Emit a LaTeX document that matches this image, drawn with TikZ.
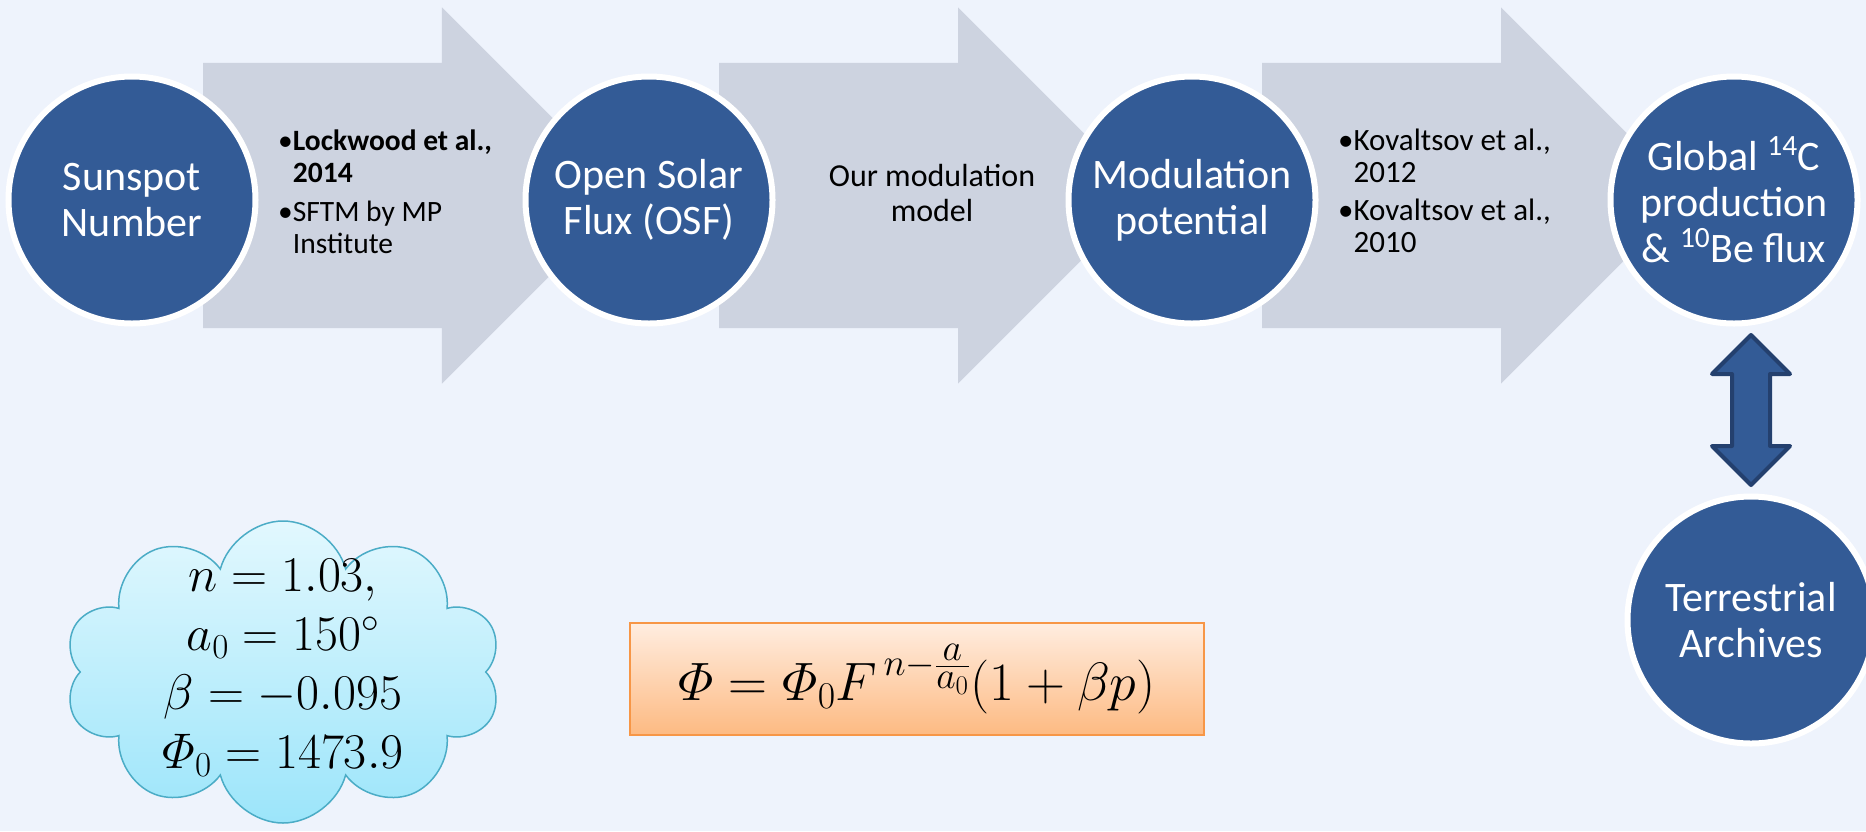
\RequirePackage{fix-cm}
\documentclass[tikz,border=0pt]{standalone}
\usepackage{amsmath}
\usepackage[no-math]{fontspec}
\setmainfont{Carlito}
\usetikzlibrary{positioning, calc, shapes.arrows, shapes.symbols, backgrounds}
\definecolor{slidebg}{HTML}{EEF3FC}
\definecolor{discblue}{HTML}{335B96}
\definecolor{discdark}{HTML}{24406E}
\definecolor{flowgray}{HTML}{CDD3E0}
\definecolor{cloudtop}{HTML}{E2F8FE}
\definecolor{cloudbot}{HTML}{9CE5FA}
\definecolor{cloudbd}{HTML}{4BACC6}
\definecolor{eqtop}{HTML}{FFEDE0}
\definecolor{eqbot}{HTML}{FDBA82}
\definecolor{eqbd}{HTML}{F79646}
\tikzset{
  disc/.style={circle, draw=white, fill=discblue, line width=6pt, minimum size=247pt,
    inner sep=0pt, align=center, text=white, font=\fontsize{42}{46}\selectfont},
  flowarr/.style={single arrow, fill=flowgray, inner xsep=0pt, inner ysep=132.5pt,
    single arrow head extend=55.5pt, minimum height=427pt, anchor=tail},
  reflist/.style={anchor=west, inner sep=0pt, font=\fontsize{31}{32}\selectfont},
  bothway/.style={double arrow, fill=discblue, draw=discdark, line width=4pt, line join=round,
    inner xsep=0pt, inner ysep=17pt, double arrow head extend=20pt, minimum height=150pt}
}

\begin{document}
\begin{tikzpicture}[x=1pt, y=-1pt]
\useasboundingbox (0,0) rectangle (1866,831);
\node[disc] (sun) at (132,200) {Sunspot\\Number};
\node[disc] (osf) at (649,200) {Open Solar\\Flux (OSF)};
\node[disc] (mod) at (1192,200) {Modulation\\potential};
\node[disc] (glob) at (1734,200) {Global \textsuperscript{14}C\\production\\\& \textsuperscript{10}Be flux};
\node[disc] (terra) at (1751,620) {Terrestrial\\Archives};
\begin{pgfonlayer}{background}
\fill[slidebg] (0,0) rectangle (1866,831);
\node[flowarr] (a1) at ($(sun.center)+(71,-4.5)$) {};
\node[flowarr] (a2) at ($(osf.center)+(70,-4.5)$) {};
\node[flowarr] (a3) at ($(mod.center)+(70,-4.5)$) {};
\end{pgfonlayer}
\node[reflist, font=\fontsize{29.5}{32}\selectfont] (lit1) at ($(a1.tail)+(75,0)$) {\begin{tabular}{@{}l@{}l@{}}
  \textbullet&\textbf{Lockwood et al.,}\\&\textbf{2014}\\[7pt]
  \textbullet&SFTM by MP\\&Institute\end{tabular}};
\node[font=\fontsize{32}{35}\selectfont, align=center] (ourmod) at ($(a2.tail)+(213,-3)$) {Our modulation\\model};
\node[reflist] (lit3) at ($(a3.tail)+(76,0)$) {\begin{tabular}{@{}l@{}l@{}}
  \textbullet&Kovaltsov et al.,\\&2012\\[6pt]
  \textbullet&Kovaltsov et al.,\\&2010\end{tabular}};
\node[bothway, rotate=90] (link) at ($(glob.south -| terra.north)!0.5!(terra.north)$) {};
% parameters and the model
\node[cloud, cloud puffs=10, aspect=1.45, top color=cloudtop, bottom color=cloudbot,
  draw=cloudbd, line width=1.5pt, minimum width=437pt, minimum height=302pt, inner sep=0pt] (parcloud) at (283,672) {};
\node[align=center, font=\fontsize{50}{59}\selectfont] (pars) at (283,668)
  {$n = 1.03,$\\$a_0 = 150^{\circ}$\\$\beta = -0.095$\\$\varPhi_0 = 1473.9$};
\node[draw=eqbd, line width=2pt, top color=eqtop, bottom color=eqbot, minimum width=574pt,
  minimum height=112pt, font=\fontsize{54}{60}\selectfont] (law) at (917,679)
  {$\varPhi = \varPhi_0 F^{\,n-\frac{\scriptstyle a}{\scriptstyle a_0}}(1+\beta p)$};
\end{tikzpicture}
\end{document}
